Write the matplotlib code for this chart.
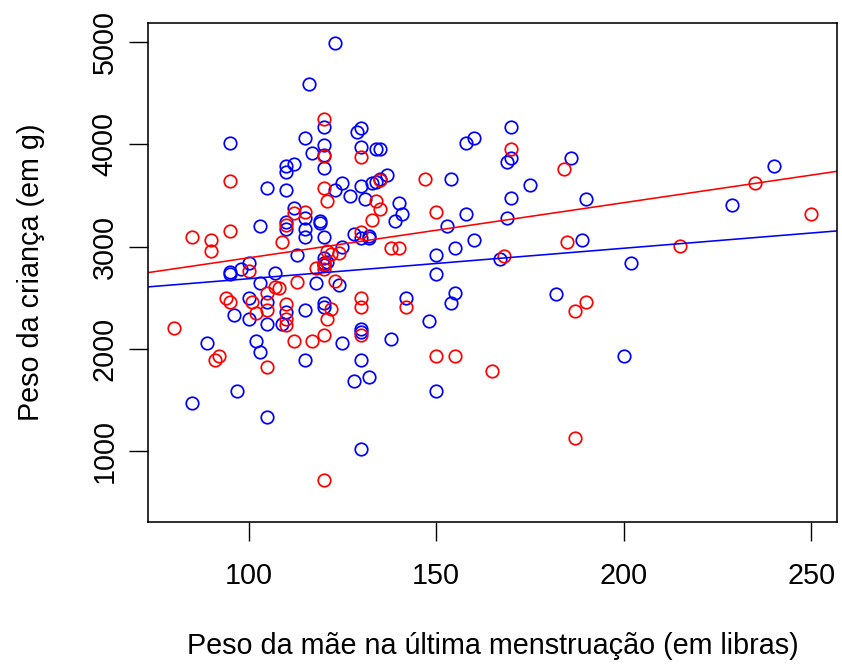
import matplotlib
matplotlib.use("Agg")
import matplotlib.pyplot as plt

plt.rcParams['font.family'] = ['Liberation Sans', 'DejaVu Sans']

# Red series (mother's weight in lbs, baby's weight in g)
red_lwt = [120, 120, 95, 120, 121, 112, 115, 110, 95, 85, 90, 90, 109, 118, 120,
           100, 113, 107, 108, 94, 95, 101, 105, 110, 110, 110, 102, 105, 121, 80,
           92, 91, 105, 112, 117, 120, 120, 147, 134, 135, 133, 150, 130, 138, 140,
           121, 122, 124, 123, 130, 130, 142, 122, 130, 150, 155, 165, 170, 184, 185,
           168, 190, 187, 187, 235, 250, 215, 130, 135, 120]
red_bwt = [4246, 3886, 3641, 3570, 3446, 3330, 3341, 3210, 3155, 3096, 3064, 2959, 3041, 2795, 2786,
           2763, 2656, 2607, 2600, 2499, 2460, 2460, 2548, 2435, 2290, 2235, 2352, 2385, 2297, 2205,
           1926, 1895, 1822, 2077, 2077, 2132, 713, 3661, 3446, 3368, 3260, 3335, 3139, 2990, 2990,
           2955, 2930, 2940, 2660, 2499, 2405, 2405, 2390, 2138, 1926, 1926, 1782, 3952, 3756, 3041,
           2910, 2460, 2368, 1127, 3625, 3318, 3008, 3880, 3650, 2835]

# Blue series
blue_lwt = [123, 116, 120, 95, 115, 120, 117, 120, 112, 110, 110, 120, 105, 110, 112,
            115, 119, 119, 103, 110, 110, 115, 115, 120, 113, 120, 121, 120, 120, 100,
            98, 95, 95, 107, 103, 118, 100, 105, 110, 109, 96, 100, 105, 115, 120,
            120, 89, 102, 103, 115, 97, 85, 105, 129, 130, 130, 134, 135, 137, 135,
            134, 133, 130, 125, 123, 127, 131, 154, 158, 160, 140, 141, 139, 158, 153,
            160, 155, 150, 128, 130, 132, 132, 125, 150, 167, 124, 142, 155, 154, 148,
            130, 130, 125, 138, 130, 128, 132, 150, 130, 170, 170, 169, 186, 175, 170,
            190, 169, 189, 202, 182, 200, 240, 229]
blue_bwt = [4990, 4592, 4173, 4011, 4066, 3991, 3919, 3900, 3808, 3785, 3728, 3770, 3570, 3553, 3374,
            3280, 3255, 3233, 3204, 3245, 3170, 3168, 3096, 3096, 2917, 2885, 2852, 2836, 2819, 2841,
            2786, 2753, 2731, 2747, 2640, 2646, 2499, 2460, 2356, 2245, 2329, 2297, 2241, 2385, 2452,
            2411, 2058, 2077, 1970, 1895, 1585, 1474, 1333, 4118, 4158, 3977, 3955, 3955, 3701, 3665,
            3634, 3620, 3593, 3625, 3550, 3497, 3462, 3661, 4011, 4066, 3427, 3318, 3247, 3318, 3204,
            3064, 2988, 2917, 3119, 3080, 3105, 3085, 2992, 2731, 2878, 2623, 2499, 2548, 2444, 2273,
            2199, 2166, 2062, 2098, 1895, 1690, 1725, 1585, 1017, 4173, 3864, 3825, 3864, 3605, 3478,
            3462, 3276, 3064, 2841, 2532, 1926, 3792, 3406]

# Fitted lines (intercept, slope)
red_line = (2351, 5.394)
blue_line = (2388, 2.981)

x_ticks = [100, 150, 200, 250]
y_ticks = [1000, 2000, 3000, 4000, 5000]
x_label = "Peso da mãe na última menstruação (em libras)"
y_label = "Peso da criança (em g)"

fig = plt.figure(figsize=(8.42, 6.64), dpi=100)
ax = fig.add_axes([148 / 842, 1 - 521.7 / 664, (836.7 - 148) / 842, (521.7 - 22.7) / 664])

ms = 9.0
mew = 1.25
ax.plot(blue_lwt, blue_bwt, linestyle='none', marker='o', markersize=ms,
        markerfacecolor='none', markeredgecolor='#0000FF', markeredgewidth=mew)
ax.plot(red_lwt, red_bwt, linestyle='none', marker='o', markersize=ms,
        markerfacecolor='none', markeredgecolor='#FF0000', markeredgewidth=mew)

ax.axline((0, red_line[0]), slope=red_line[1], color='#FF0000', linewidth=1.15)
ax.axline((0, blue_line[0]), slope=blue_line[1], color='#0000FF', linewidth=1.15)

ax.set_xlim(73.2, 256.8)
ax.set_ylim(310, 5190)

ax.set_xticks(x_ticks)
ax.set_xticklabels([str(v) for v in x_ticks])
ax.set_yticks(y_ticks)
ax.set_yticklabels([str(v) for v in y_ticks], rotation=90, va='center')

ax.tick_params(axis='both', direction='out', length=14, width=1.0, labelsize=20.7, colors='black')
ax.tick_params(axis='x', pad=15)
ax.tick_params(axis='y', pad=7)

for s in ax.spines.values():
    s.set_linewidth(1.15)
    s.set_color('black')

ax.set_xlabel(x_label, fontsize=20.7, va='center')
ax.xaxis.set_label_coords(0.5, (521.7 - 646) / (521.7 - 22.7))
ax.set_ylabel(y_label, fontsize=20.7, va='center')
ax.yaxis.set_label_coords((31 - 148) / (836.7 - 148), 0.5)

fig.savefig("out.png", dpi=100)
